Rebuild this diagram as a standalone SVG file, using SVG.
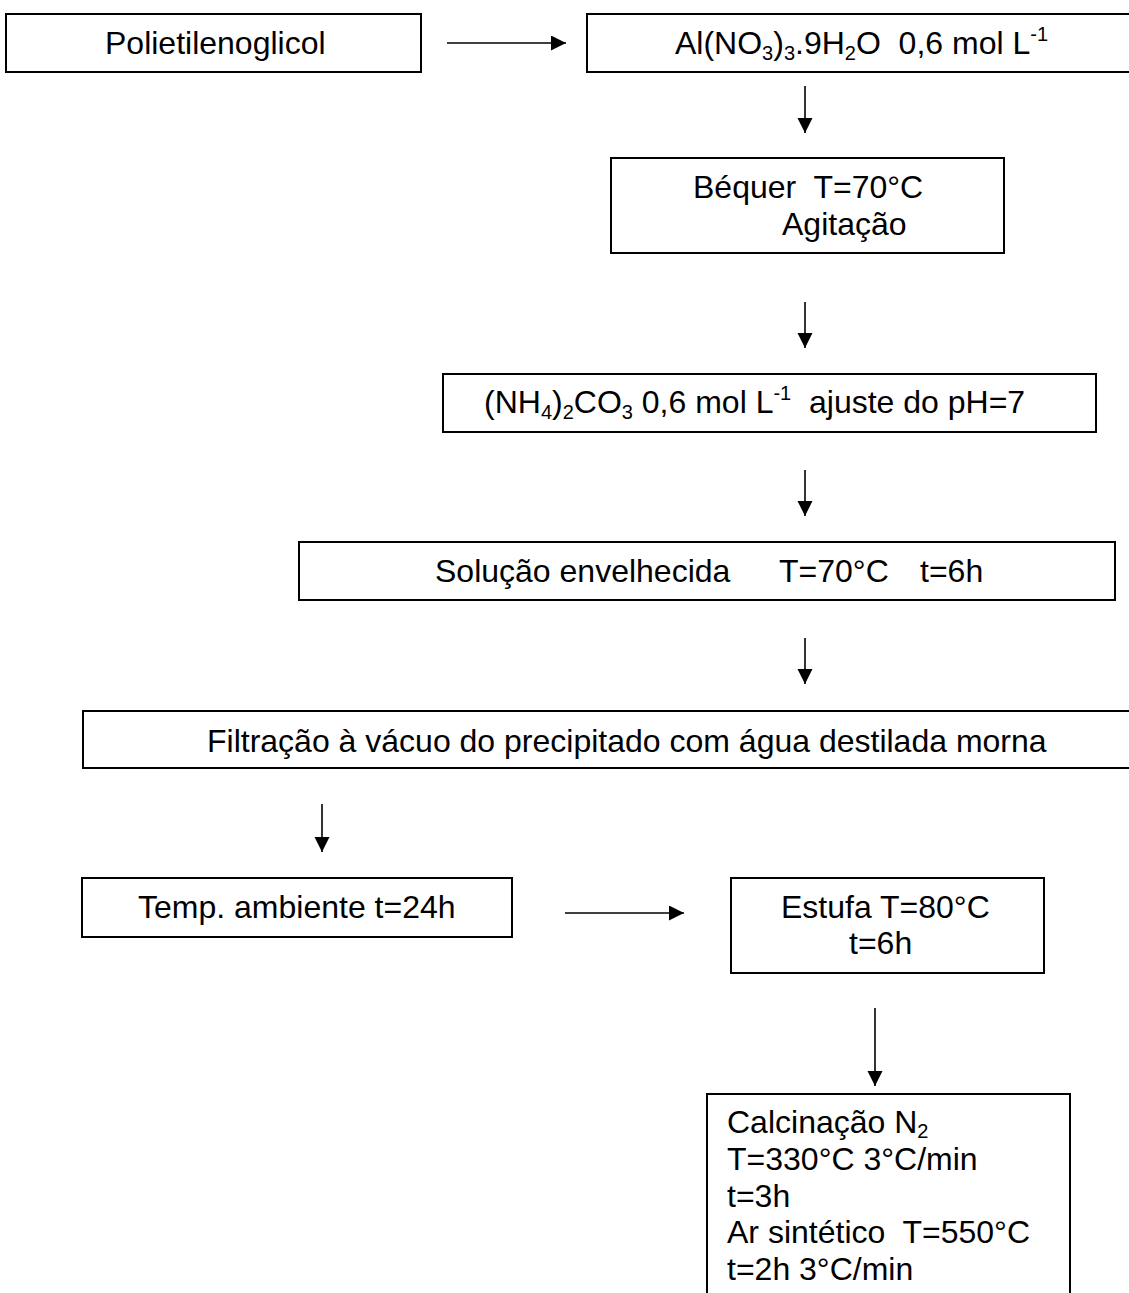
<svg xmlns="http://www.w3.org/2000/svg" width="1129" height="1293" viewBox="0 0 1129 1293">
<style>
.box{fill:#fff;stroke:#000;stroke-width:2}
.t{font-family:"Liberation Sans",Arial,sans-serif;font-size:32px;fill:#000}
.s{font-size:20px}
.c{stroke:#000;stroke-width:1.6;fill:none;marker-end:url(#ah)}
</style>
<defs>
<marker id="ah" markerUnits="userSpaceOnUse" markerWidth="16" markerHeight="16" refX="15" refY="7.5" orient="auto">
<path d="M0,0 L15,7.5 L0,15 Z" fill="#000"/>
</marker>
</defs>
<rect width="1129" height="1293" fill="#fff"/>
<g id="connectors">
<line class="c" x1="447" y1="43" x2="566" y2="43"/>
<line class="c" x1="805" y1="86" x2="805" y2="133"/>
<line class="c" x1="805" y1="302" x2="805" y2="348"/>
<line class="c" x1="805" y1="470" x2="805" y2="516"/>
<line class="c" x1="805" y1="638" x2="805" y2="684"/>
<line class="c" x1="322" y1="804" x2="322" y2="852"/>
<line class="c" x1="565" y1="913" x2="684" y2="913"/>
<line class="c" x1="875" y1="1008" x2="875" y2="1086"/>
</g>
<g id="polietilenoglicol">
<rect class="box" x="6" y="14" width="415" height="58"/>
<text class="t" x="105" y="54">Polietilenoglicol</text>
</g>
<g id="nitrato">
<rect class="box" x="587" y="14" width="560" height="58"/>
<text class="t" x="675" y="54" xml:space="preserve">Al(NO<tspan class="s" dy="6">3</tspan><tspan dy="-6">)</tspan><tspan class="s" dy="6">3</tspan><tspan dy="-6">.9H</tspan><tspan class="s" dy="6">2</tspan><tspan dy="-6">O  0,6 mol L</tspan><tspan class="s" dy="-13">-1</tspan></text>
</g>
<g id="bequer">
<rect class="box" x="611" y="158" width="393" height="95"/>
<text class="t" x="693" y="198" xml:space="preserve">Béquer  T=70°C</text>
<text class="t" x="782" y="235">Agitação</text>
</g>
<g id="carbonato">
<rect class="box" x="443" y="374" width="653" height="58"/>
<text class="t" x="484" y="413" xml:space="preserve">(NH<tspan class="s" dy="6">4</tspan><tspan dy="-6">)</tspan><tspan class="s" dy="6">2</tspan><tspan dy="-6">CO</tspan><tspan class="s" dy="6">3</tspan><tspan dy="-6"> 0,6 mol L</tspan><tspan class="s" dy="-13">-1</tspan><tspan dy="13">  ajuste do pH=7</tspan></text>
</g>
<g id="solucao">
<rect class="box" x="299" y="542" width="816" height="58"/>
<text class="t" x="435" y="582">Solução envelhecida</text>
<text class="t" x="779" y="582">T=70°C</text>
<text class="t" x="920" y="582">t=6h</text>
</g>
<g id="filtracao">
<rect class="box" x="83" y="711" width="1060" height="57"/>
<text class="t" x="207" y="752">Filtração à vácuo do precipitado com água destilada morna</text>
</g>
<g id="temp">
<rect class="box" x="82" y="878" width="430" height="59"/>
<text class="t" x="138" y="918">Temp. ambiente t=24h</text>
</g>
<g id="estufa">
<rect class="box" x="731" y="878" width="313" height="95"/>
<text class="t" x="781" y="918">Estufa T=80°C</text>
<text class="t" x="849" y="954">t=6h</text>
</g>
<g id="calcinacao">
<rect class="box" x="707" y="1094" width="363" height="220"/>
<text class="t" x="727" y="1133">Calcinação N<tspan class="s" dy="5">2</tspan></text>
<text class="t" x="727" y="1170">T=330°C 3°C/min</text>
<text class="t" x="727" y="1207">t=3h</text>
<text class="t" x="727" y="1243" xml:space="preserve">Ar sintético  T=550°C</text>
<text class="t" x="727" y="1280">t=2h 3°C/min</text>
</g>
</svg>
